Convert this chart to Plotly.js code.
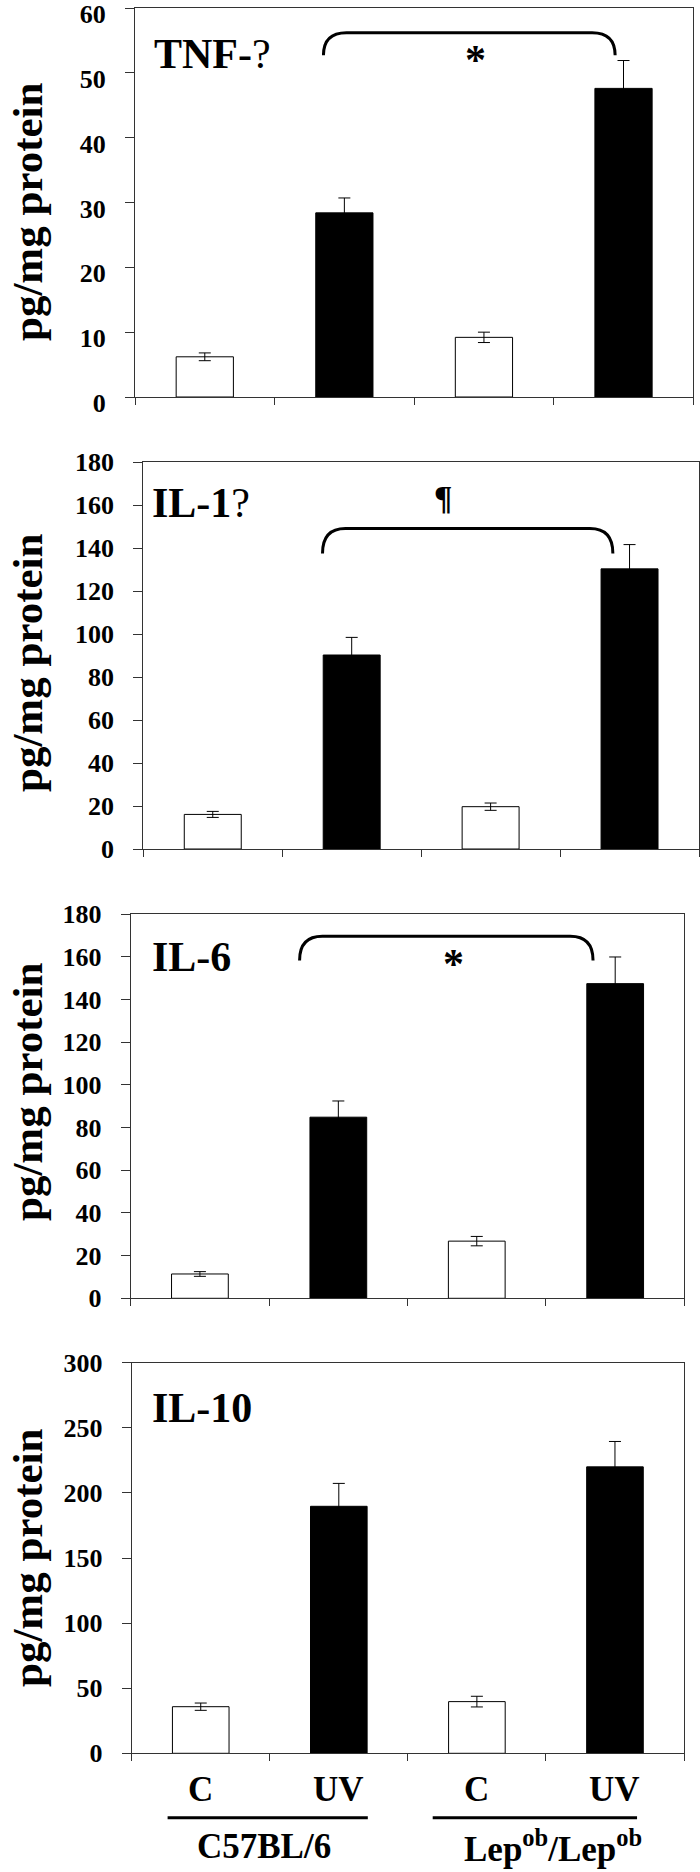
<!DOCTYPE html>
<html><head><meta charset="utf-8">
<script src="https://cdn.plot.ly/plotly-3.0.1.min.js"></script>
<style>html,body{margin:0;padding:0;background:#fff}</style>
</head><body><div id="chart" style="width:700px;height:1872px"></div>
<script>
// ---- data ----
const categories = ['C', 'UV', 'C', 'UV'];
const strains = ['C57BL/6', 'Lep<sup>ob</sup>/Lep<sup>ob</sup>'];
const panelLabels = ['TNF-<span style="font-weight:normal">?</span>', 'IL-1<span style="font-weight:normal">?</span>', 'IL-6', 'IL-10'];
const tnfValues = [6.2, 28.4, 9.2, 47.6];
const tnfErrors = [0.6, 2.3, 0.8, 4.3];
const il1Values = [16.1, 90.3, 19.7, 130.4];
const il1Errors = [1.4, 8.2, 1.7, 11.3];
const il6Values = [11.4, 84.9, 26.8, 147.5];
const il6Errors = [1.1, 7.6, 2.2, 12.5];
const il10Values = [35.8, 189.7, 39.7, 220.0];
const il10Errors = [2.8, 17.6, 4.1, 19.5];
const yMax = [60, 180, 180, 300];
const yStep = [10, 20, 20, 50];
const sigMarks = ['*', '¶', '*', null];
const yTitle = 'pg/mg protein';

// ---- layout geometry (pixels of the 700x1872 page) ----
const W = 700, H = 1872;
const boxes = [
  {l: 135, r: 693.3, t: 8, b: 397},
  {l: 143.3, r: 699, t: 462.3, b: 849},
  {l: 130.7, r: 684.4, t: 914.3, b: 1298.3},
  {l: 131.7, r: 684, t: 1362.7, b: 1753.3}
];
const brackets = [
  {from: 0.85, to: 2.94, top: 56.2, end: 52.7, markX: 1.94, markY: 53.2},
  {from: 0.79, to: 2.88, top: 149.2, end: 137.6, markX: 1.66, markY: 163.4},
  {from: 0.72, to: 2.84, top: 169.7, end: 158.4, markX: 1.83, markY: 160.3}
];
const labelPos = [
  {x: 0.030, y: 0.883}, {x: 0.012, y: 0.895}, {x: 0.035, y: 0.890}, {x: 0.033, y: 0.885}
];
const titleCenterY = [212, 663, 1092, 1558];
const tickShift = [6, 0, 0, 0];

const valueSets = [tnfValues, il1Values, il6Values, il10Values];
const errorSets = [tnfErrors, il1Errors, il6Errors, il10Errors];
const FONT = '"Liberation Serif", "Times New Roman", Times, serif';
const INK = '#000';
const AXIS = '#333';

const xIdx = categories.map((c, i) => i);
const traces = [];
const layout = {
  width: W, height: H, margin: {l: 0, r: 0, t: 0, b: 0},
  paper_bgcolor: '#fff', plot_bgcolor: '#fff', showlegend: false,
  font: {family: FONT, color: INK},
  annotations: [], shapes: []
};

valueSets.forEach((vals, p) => {
  const n = p + 1;
  const xa = 'x' + (n === 1 ? '' : n), ya = 'y' + (n === 1 ? '' : n);
  traces.push({
    type: 'bar', x: xIdx, y: vals, xaxis: xa, yaxis: ya,
    width: 0.41,
    marker: {color: categories.map(c => c === 'C' ? '#fff' : '#000'), line: {color: '#000', width: 1}},
    error_y: {type: 'data', array: errorSets[p], visible: true, color: '#000', thickness: 1, width: 6},
    hoverinfo: 'y'
  });
  const b = boxes[p];
  const common = {linecolor: AXIS, linewidth: 1, mirror: true, showgrid: false, zeroline: false,
                  ticks: 'outside', tickcolor: AXIS, tickwidth: 1, fixedrange: true};
  layout['xaxis' + (n === 1 ? '' : n)] = Object.assign({}, common, {
    domain: [b.l / W, b.r / W], anchor: ya, range: [-0.5, categories.length - 0.5],
    tickmode: 'array', tickvals: [-0.5, 0.5, 1.5, 2.5, 3.5], showticklabels: false, ticklen: 7
  });
  layout['yaxis' + (n === 1 ? '' : n)] = Object.assign({}, common, {
    domain: [1 - b.b / H, 1 - b.t / H], anchor: xa, range: [0, yMax[p]],
    tickmode: 'linear', tick0: 0, dtick: yStep[p], ticklen: 9, ticklabelstandoff: 14,
    ticklabeloverflow: 'allow', ticklabelshift: tickShift[p],
    tickfont: {family: FONT, size: 26, weight: 'bold', color: INK}
  });
  // panel label
  layout.annotations.push({
    text: panelLabels[p], xref: xa + ' domain', yref: ya + ' domain',
    x: labelPos[p].x, y: labelPos[p].y, xanchor: 'left', yanchor: 'middle', showarrow: false,
    font: {family: FONT, size: 42, weight: 'bold', color: INK}
  });
  // y title
  layout.annotations.push({
    text: yTitle, xref: 'paper', yref: 'paper', x: 27 / W, y: 1 - titleCenterY[p] / H,
    xanchor: 'center', yanchor: 'middle', textangle: -90, showarrow: false,
    font: {family: FONT, size: 43, weight: 'bold', color: INK}
  });
  // significance bracket
  if (sigMarks[p]) {
    const br = brackets[p];
    const r = 0.165;
    const path = `M ${br.from},${br.end} Q ${br.from},${br.top} ${br.from + r},${br.top} ` +
                 `L ${br.to - r},${br.top} Q ${br.to},${br.top} ${br.to},${br.end}`;
    layout.shapes.push({type: 'path', path: path, xref: xa, yref: ya, line: {color: '#000', width: 3}});
    layout.annotations.push({
      text: sigMarks[p], xref: xa, yref: ya, x: br.markX, y: br.markY,
      xanchor: 'center', yanchor: 'middle', showarrow: false,
      yshift: sigMarks[p] === '*' ? -8 : 0,
      font: {family: FONT, size: sigMarks[p] === '*' ? 42 : 34, weight: 'bold', color: INK}
    });
  }
});

// bottom category labels and strain groups (panel 4)
categories.forEach((c, i) => {
  layout.annotations.push({
    text: c, xref: 'x4', yref: 'paper', x: i, y: 1 - 1789.5 / H,
    xanchor: 'center', yanchor: 'middle', showarrow: false,
    font: {family: FONT, size: 35, weight: 'bold', color: INK}
  });
});
const groupSpan = [[-0.24, 1.21], [1.68, 3.16]];
const strainX = [0.46, 2.55];
strains.forEach((s, g) => {
  layout.shapes.push({type: 'line', xref: 'x4', yref: 'paper',
    x0: groupSpan[g][0], x1: groupSpan[g][1], y0: 1 - 1817.7 / H, y1: 1 - 1817.7 / H,
    line: {color: '#000', width: 3}});
  layout.annotations.push({
    text: s, xref: 'x4', yref: 'paper', x: strainX[g], y: 1 - 1846 / H,
    xanchor: 'center', yanchor: 'middle', showarrow: false, borderpad: 0,
    font: {family: FONT, size: 35, weight: 'bold', color: INK}
  });
});

Plotly.newPlot('chart', traces, layout, {displayModeBar: false, staticPlot: true});
</script></body></html>
